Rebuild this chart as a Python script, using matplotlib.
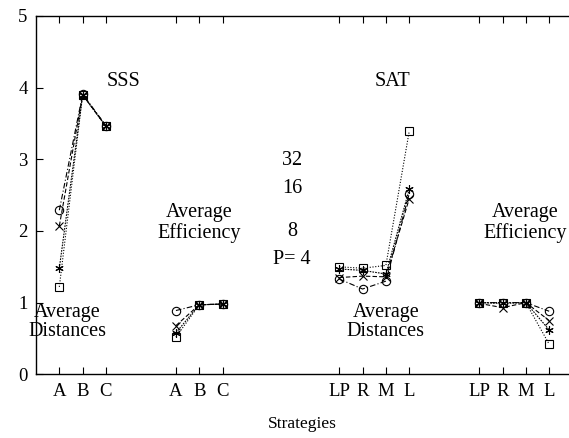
import numpy as np
import matplotlib.pyplot as plt

plt.rcParams['font.family'] = ['Liberation Serif', 'DejaVu Serif']

# x positions of the four groups of strategies
x_sss_dist = [1, 2, 3]
x_sss_eff = [6, 7, 8]
x_sat_dist = [13, 14, 15, 16]
x_sat_eff = [19, 20, 21, 22]

tick_pos = x_sss_dist + x_sss_eff + x_sat_dist + x_sat_eff
tick_labels = ['A', 'B', 'C', 'A', 'B', 'C',
               'LP', 'R', 'M', 'L', 'LP', 'R', 'M', 'L']

# values per processor count P
sss_dist = {
    4: [1.22, 3.90, 3.46],
    8: [1.48, 3.90, 3.46],
    16: [2.07, 3.90, 3.46],
    32: [2.29, 3.91, 3.47],
}
sss_eff = {
    4: [0.52, 0.97, 0.98],
    8: [0.58, 0.97, 0.98],
    16: [0.68, 0.97, 0.98],
    32: [0.89, 0.97, 0.98],
}
sat_dist = {
    4: [1.50, 1.48, 1.52, 3.39],
    8: [1.47, 1.45, 1.40, 2.58],
    16: [1.35, 1.37, 1.36, 2.45],
    32: [1.33, 1.19, 1.30, 2.52],
}
sat_eff = {
    4: [1.00, 1.00, 1.00, 0.42],
    8: [1.00, 0.99, 1.00, 0.62],
    16: [0.99, 0.93, 1.00, 0.75],
    32: [1.00, 1.00, 1.00, 0.88],
}

styles = {
    4: dict(marker='s', ls=(0, (1, 1.5))),
    8: dict(marker=(6, 2, 0), ls=(0, (1.5, 1))),
    16: dict(marker='x', ls=(0, (4, 2))),
    32: dict(marker='o', ls=(0, (5, 2, 1, 2))),
}

fig = plt.figure(figsize=(5.69, 4.38), dpi=100)
ax = fig.add_axes([36 / 569, 63.7 / 438, 1 - 36 / 569, (374.3 - 16) / 438])

for p in [4, 8, 16, 32]:
    st = styles[p]
    for xs, data in [(x_sss_dist, sss_dist), (x_sss_eff, sss_eff),
                     (x_sat_dist, sat_dist), (x_sat_eff, sat_eff)]:
        ax.plot(xs, data[p], color='black', lw=0.8, ls=st['ls'],
                marker=st['marker'], mfc='none', mec='black',
                mew=0.8, ms=6)

ax.set_xlim(0, 22.85)
ax.set_ylim(0, 5)
ax.set_xticks(tick_pos)
ax.set_xticklabels(tick_labels)
ax.set_yticks(range(6))
ax.tick_params(direction='in', length=5, width=0.8, labelsize=13.5,
               top=True, right=False, pad=6)
ax.spines['right'].set_visible(False)
for s in ['left', 'top', 'bottom']:
    ax.spines[s].set_linewidth(1.0)
ax.set_xlabel('Strategies', fontsize=12.5, labelpad=12)

fs = 14.5
ls = 1.05
ax.text(3.73, 4.08, 'SSS', ha='center', va='center', fontsize=fs)
ax.text(15.3, 4.08, 'SAT', ha='center', va='center', fontsize=fs)
ax.text(6.98, 2.11, 'Average\nEfficiency', ha='center', va='center',
        fontsize=fs, linespacing=ls)
ax.text(20.96, 2.11, 'Average\nEfficiency', ha='center', va='center',
        fontsize=fs, linespacing=ls)
ax.text(1.35, 0.73, 'Average\nDistances', ha='center', va='center',
        fontsize=fs, linespacing=ls)
ax.text(15.0, 0.73, 'Average\nDistances', ha='center', va='center',
        fontsize=fs, linespacing=ls)

legend_labels = ['32', '16', '8', 'P= 4']
legend_y = [2.99, 2.59, 1.99, 1.60]
for lab, yy in zip(legend_labels, legend_y):
    ax.text(10.97, yy, lab, ha='center', va='center', fontsize=fs)

fig.savefig('out.png', dpi=100)
